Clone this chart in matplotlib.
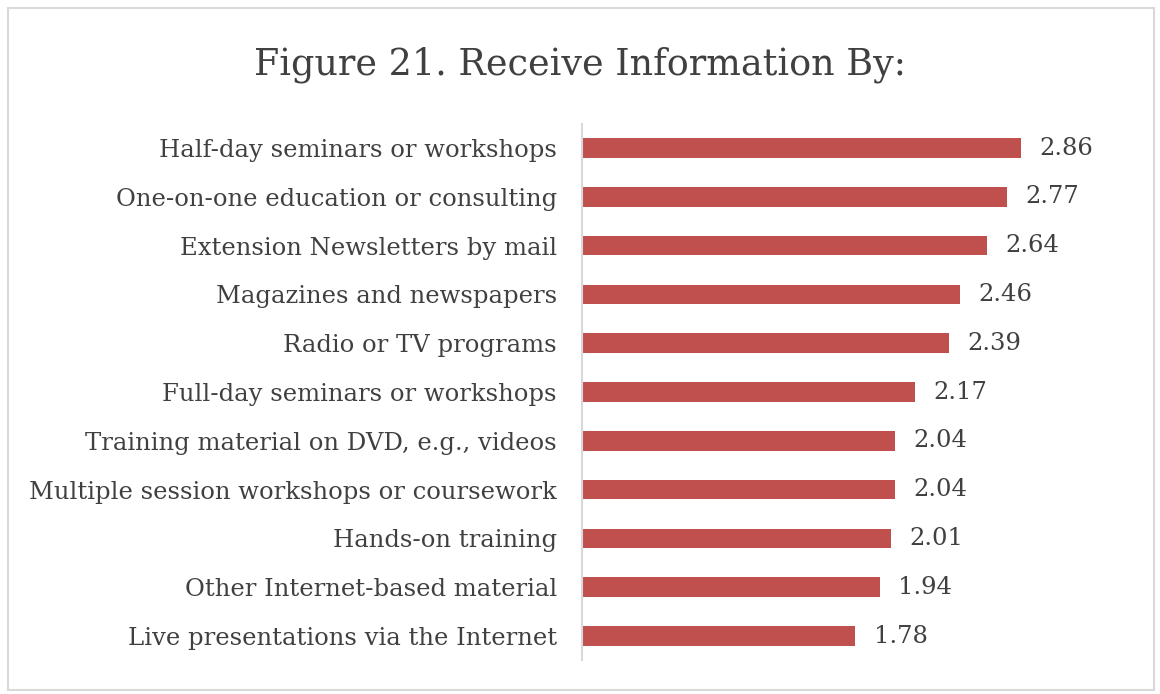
import matplotlib

matplotlib.use("Agg")
import matplotlib.pyplot as plt
from matplotlib.patches import Rectangle

# ── Data ─────────────────────────────────────────────────────────────────────
categories = [
    "Half-day seminars or workshops",
    "One-on-one education or consulting",
    "Extension Newsletters by mail",
    "Magazines and newspapers",
    "Radio or TV programs",
    "Full-day seminars or workshops",
    "Training material on DVD, e.g., videos",
    "Multiple session workshops or coursework",
    "Hands-on training",
    "Other Internet-based material",
    "Live presentations via the Internet",
]
values = [2.86, 2.77, 2.64, 2.46, 2.39, 2.17, 2.04, 2.04, 2.01, 1.94, 1.78]

BAR_COLOR = "#C0504D"
TEXT_COLOR = "#404040"

plt.rcParams["font.family"] = ["DejaVu Serif"]

fig = plt.figure(figsize=(11.6, 6.94), dpi=100)
ax = fig.add_axes([0.5017, 0.0484, 0.4632, 0.7735])

pos = list(range(len(categories)))[::-1]
ax.barh(pos, values, height=0.40, color=BAR_COLOR)

for p, v in zip(pos, values):
    ax.text(v + 0.12, p, f"{v:.2f}", va="center", ha="left",
            fontsize=17.5, color=TEXT_COLOR)

ax.set_xlim(0, 3.5)
ax.set_ylim(-0.5, len(categories) - 0.5)
ax.set_yticks(pos)
ax.set_yticklabels(categories, fontsize=17.5, color=TEXT_COLOR)
ax.tick_params(axis="y", length=0, pad=18)
ax.set_xticks([])

for s in ["top", "right", "bottom"]:
    ax.spines[s].set_visible(False)
ax.spines["left"].set_color("#D9D9D9")
ax.spines["left"].set_linewidth(1.5)

fig.text(0.5, 0.907, "Figure 21. Receive Information By:", ha="center", va="center",
         fontsize=26.3, color=TEXT_COLOR)

# outer chart border
fig.patches.append(Rectangle((8 / 1160, 4 / 694), 1146 / 1160, 682 / 694,
                             transform=fig.transFigure, fill=False,
                             edgecolor="#D9D9D9", linewidth=1.5))

fig.savefig("out.png", dpi=100)
